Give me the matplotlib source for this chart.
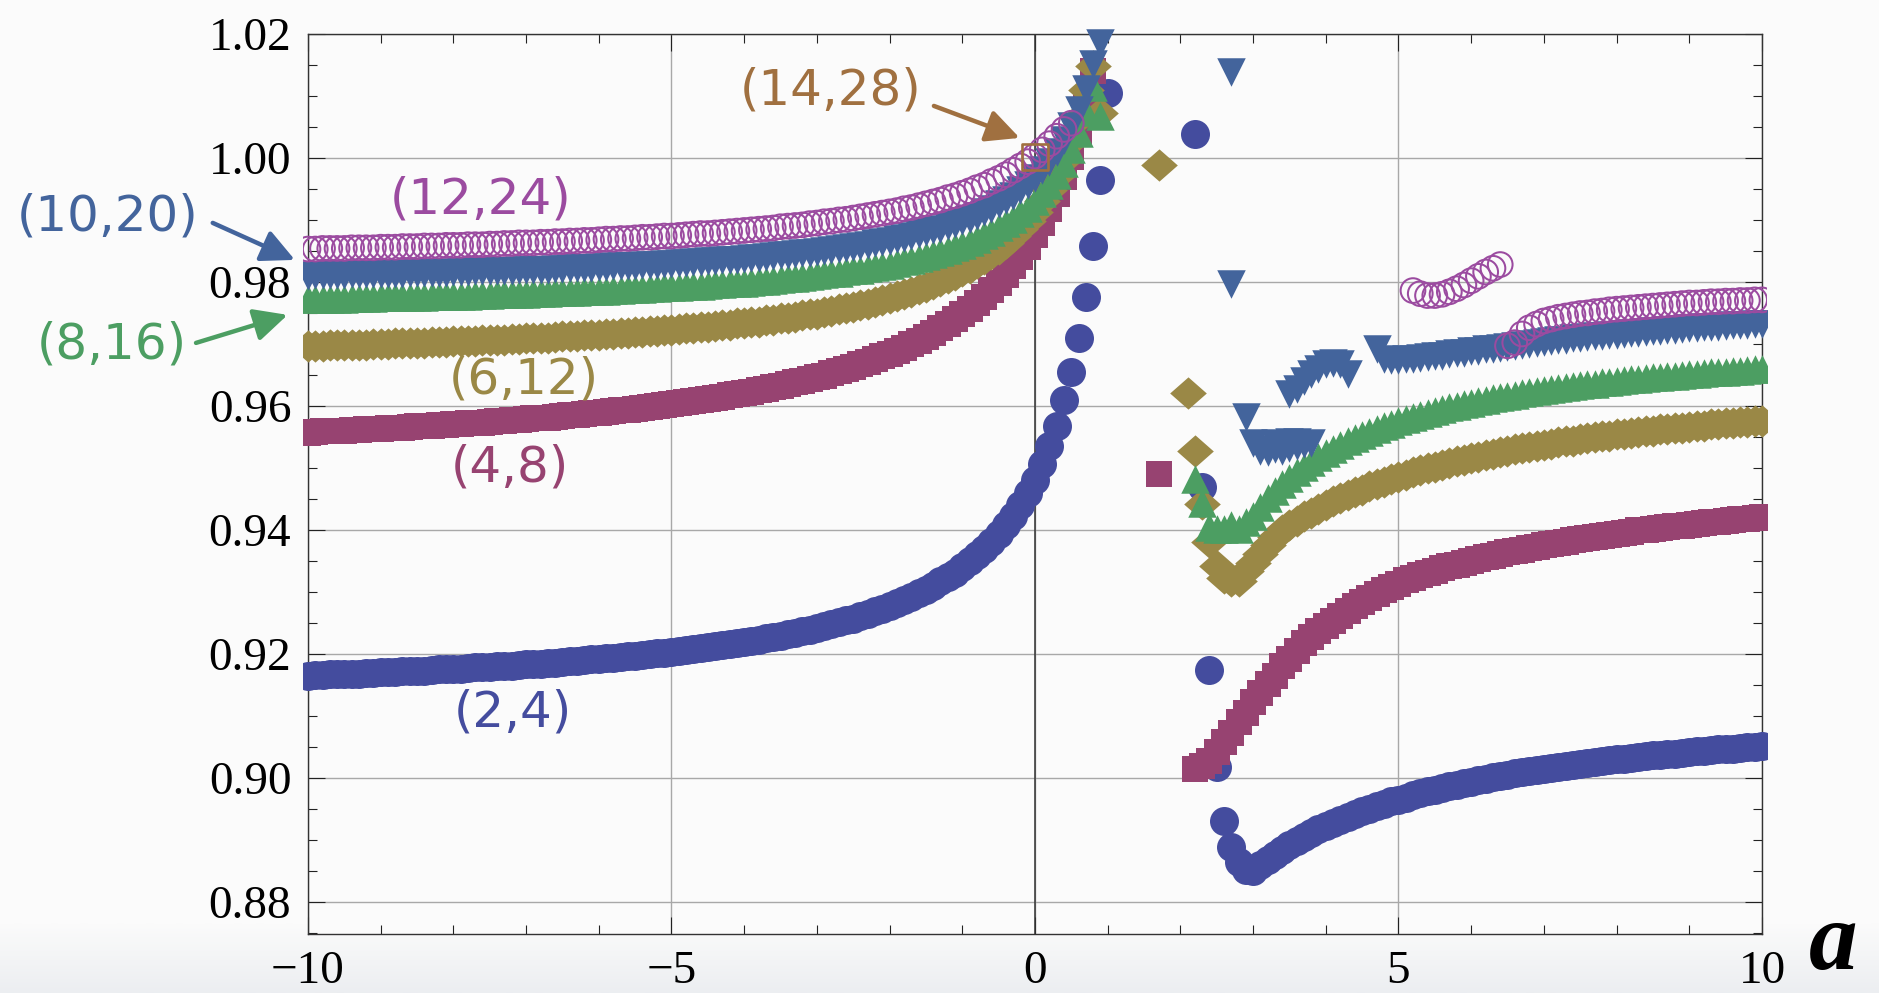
import numpy as np
import matplotlib
matplotlib.use("Agg")
import matplotlib.pyplot as plt
from matplotlib.patches import Rectangle
from matplotlib.path import Path
from matplotlib.ticker import MultipleLocator, FixedLocator, FormatStrFormatter

# ---- data (a on a 0.1 grid) ----
XTICKS = [-10, -5, 0, 5, 10]
YTICKS = [0.88, 0.90, 0.92, 0.94, 0.96, 0.98, 1.00, 1.02]

# (2,4)  filled circles
c24_left = [
    0.9165, 0.9166, 0.9166, 0.9167, 0.9167, 0.9168, 0.9168, 0.9168, 0.9169, 0.9169,
    0.9170, 0.9171, 0.9171, 0.9172, 0.9172, 0.9173, 0.9173, 0.9174, 0.9175, 0.9175,
    0.9176, 0.9176, 0.9177, 0.9178, 0.9178, 0.9179, 0.9180, 0.9181, 0.9181, 0.9182,
    0.9183, 0.9184, 0.9184, 0.9185, 0.9186, 0.9187, 0.9188, 0.9189, 0.9190, 0.9191,
    0.9192, 0.9193, 0.9194, 0.9195, 0.9196, 0.9197, 0.9198, 0.9200, 0.9201, 0.9202,
    0.9203, 0.9205, 0.9206, 0.9208, 0.9209, 0.9211, 0.9212, 0.9214, 0.9216, 0.9217,
    0.9219, 0.9221, 0.9223, 0.9225, 0.9227, 0.9229, 0.9232, 0.9234, 0.9237, 0.9239,
    0.9242, 0.9245, 0.9248, 0.9251, 0.9254, 0.9257, 0.9261, 0.9265, 0.9269, 0.9273,
    0.9277, 0.9282, 0.9287, 0.9292, 0.9298, 0.9303, 0.9310, 0.9317, 0.9324, 0.9331,
    0.9340, 0.9349, 0.9359, 0.9369, 0.9381, 0.9394, 0.9408, 0.9423, 0.9440, 0.9460,
    0.9481, 0.9506, 0.9535, 0.9568, 0.9610, 0.9655, 0.9710, 0.9776, 0.9858, 0.9965, 1.0105]
c24_right = [
    1.0039, 0.9469, 0.9174, 0.9017, 0.8931, 0.8889, 0.8864, 0.8852, 0.8850, 0.8859,
    0.8868, 0.8876, 0.8884, 0.8891, 0.8898, 0.8905, 0.8911, 0.8917, 0.8922, 0.8927,
    0.8932, 0.8937, 0.8942, 0.8946, 0.8950, 0.8954, 0.8958, 0.8962, 0.8965, 0.8968,
    0.8972, 0.8975, 0.8978, 0.8981, 0.8983, 0.8986, 0.8989, 0.8991, 0.8994, 0.8996,
    0.8998, 0.9001, 0.9003, 0.9005, 0.9007, 0.9009, 0.9011, 0.9012, 0.9014, 0.9016,
    0.9018, 0.9019, 0.9021, 0.9022, 0.9024, 0.9025, 0.9027, 0.9028, 0.9030, 0.9031,
    0.9032, 0.9033, 0.9035, 0.9036, 0.9037, 0.9038, 0.9039, 0.9040, 0.9041, 0.9043,
    0.9044, 0.9045, 0.9046, 0.9047, 0.9047, 0.9048, 0.9049, 0.9050, 0.9051]

# (4,8)  squares
s48_left = [
    0.9557, 0.9558, 0.9559, 0.9559, 0.9560, 0.9560, 0.9561, 0.9561, 0.9562, 0.9563,
    0.9563, 0.9564, 0.9564, 0.9565, 0.9566, 0.9567, 0.9567, 0.9568, 0.9569, 0.9569,
    0.9570, 0.9571, 0.9572, 0.9572, 0.9573, 0.9574, 0.9575, 0.9576, 0.9577, 0.9578,
    0.9579, 0.9580, 0.9580, 0.9581, 0.9582, 0.9584, 0.9585, 0.9586, 0.9587, 0.9588,
    0.9589, 0.9590, 0.9592, 0.9593, 0.9594, 0.9595, 0.9597, 0.9598, 0.9600, 0.9601,
    0.9603, 0.9604, 0.9606, 0.9608, 0.9609, 0.9611, 0.9613, 0.9615, 0.9617, 0.9619,
    0.9621, 0.9623, 0.9625, 0.9628, 0.9630, 0.9632, 0.9635, 0.9638, 0.9640, 0.9643,
    0.9646, 0.9649, 0.9653, 0.9656, 0.9659, 0.9663, 0.9667, 0.9671, 0.9675, 0.9680,
    0.9684, 0.9689, 0.9694, 0.9700, 0.9705, 0.9711, 0.9718, 0.9725, 0.9732, 0.9740,
    0.9748, 0.9756, 0.9766, 0.9776, 0.9787, 0.9798, 0.9811, 0.9825, 0.9840, 0.9856,
    0.9875, 0.9895, 0.9917, 0.9942, 0.9970, 1.0001, 1.0038, 1.0082, 1.0140]
s48_iso_x, s48_iso_y = [1.7], [0.9490]
s48_right = [
    0.9015, 0.9019, 0.9027, 0.9041, 0.9057, 0.9073, 0.9090, 0.9105, 0.9122, 0.9137,
    0.9151, 0.9165, 0.9180, 0.9192, 0.9205, 0.9217, 0.9227, 0.9237, 0.9245, 0.9253,
    0.9261, 0.9269, 0.9277, 0.9283, 0.9290, 0.9297, 0.9303, 0.9308, 0.9313, 0.9319,
    0.9323, 0.9327, 0.9331, 0.9334, 0.9338, 0.9341, 0.9344, 0.9347, 0.9350, 0.9353,
    0.9356, 0.9358, 0.9361, 0.9364, 0.9366, 0.9368, 0.9371, 0.9373, 0.9375, 0.9377,
    0.9379, 0.9381, 0.9383, 0.9385, 0.9387, 0.9389, 0.9390, 0.9392, 0.9394, 0.9395,
    0.9397, 0.9399, 0.9400, 0.9402, 0.9403, 0.9404, 0.9406, 0.9407, 0.9408, 0.9410,
    0.9411, 0.9412, 0.9413, 0.9415, 0.9416, 0.9417, 0.9418, 0.9419, 0.9420]

# (6,12)  diamonds
d612_left = [
    0.9697, 0.9697, 0.9697, 0.9698, 0.9698, 0.9698, 0.9699, 0.9699, 0.9699, 0.9700,
    0.9700, 0.9700, 0.9701, 0.9701, 0.9701, 0.9702, 0.9702, 0.9703, 0.9703, 0.9703,
    0.9704, 0.9704, 0.9705, 0.9705, 0.9706, 0.9706, 0.9707, 0.9707, 0.9708, 0.9708,
    0.9709, 0.9709, 0.9710, 0.9710, 0.9711, 0.9712, 0.9712, 0.9713, 0.9714, 0.9714,
    0.9715, 0.9716, 0.9716, 0.9717, 0.9718, 0.9719, 0.9719, 0.9720, 0.9721, 0.9722,
    0.9723, 0.9724, 0.9725, 0.9726, 0.9727, 0.9728, 0.9729, 0.9730, 0.9731, 0.9733,
    0.9734, 0.9735, 0.9736, 0.9738, 0.9739, 0.9741, 0.9742, 0.9744, 0.9746, 0.9748,
    0.9749, 0.9751, 0.9753, 0.9756, 0.9758, 0.9760, 0.9763, 0.9765, 0.9768, 0.9771,
    0.9774, 0.9777, 0.9780, 0.9784, 0.9788, 0.9792, 0.9796, 0.9801, 0.9806, 0.9811,
    0.9817, 0.9823, 0.9830, 0.9837, 0.9845, 0.9853, 0.9863, 0.9874, 0.9885, 0.9899,
    0.9913, 0.9930, 0.9949, 0.9971, 0.9997, 1.0028, 1.0064, 1.0109, 1.0148, 1.0073]
d612_iso_x, d612_iso_y = [1.7], [0.9989]
d612_right = [
    0.9620, 0.9527, 0.9441, 0.9381, 0.9341, 0.9322, 0.9318, 0.9318, 0.9333, 0.9347,
    0.9361, 0.9376, 0.9389, 0.9400, 0.9408, 0.9415, 0.9422, 0.9428, 0.9434, 0.9440,
    0.9446, 0.9451, 0.9456, 0.9461, 0.9465, 0.9470, 0.9474, 0.9478, 0.9482, 0.9486,
    0.9489, 0.9493, 0.9496, 0.9499, 0.9502, 0.9505, 0.9508, 0.9511, 0.9513, 0.9516,
    0.9518, 0.9521, 0.9523, 0.9525, 0.9527, 0.9530, 0.9532, 0.9534, 0.9536, 0.9537,
    0.9539, 0.9541, 0.9543, 0.9544, 0.9546, 0.9548, 0.9549, 0.9551, 0.9552, 0.9554,
    0.9555, 0.9556, 0.9558, 0.9559, 0.9560, 0.9562, 0.9563, 0.9564, 0.9565, 0.9566,
    0.9567, 0.9568, 0.9570, 0.9571, 0.9572, 0.9573, 0.9574, 0.9574, 0.9575, 0.9576]

# (8,16)  up triangles
t816_left = [
    0.9772, 0.9773, 0.9773, 0.9773, 0.9773, 0.9773, 0.9774, 0.9774, 0.9774, 0.9774,
    0.9775, 0.9775, 0.9775, 0.9775, 0.9776, 0.9776, 0.9776, 0.9777, 0.9777, 0.9777,
    0.9778, 0.9778, 0.9778, 0.9779, 0.9779, 0.9779, 0.9780, 0.9780, 0.9780, 0.9781,
    0.9781, 0.9782, 0.9782, 0.9782, 0.9783, 0.9783, 0.9784, 0.9784, 0.9785, 0.9785,
    0.9786, 0.9786, 0.9787, 0.9787, 0.9788, 0.9788, 0.9789, 0.9790, 0.9790, 0.9791,
    0.9791, 0.9792, 0.9793, 0.9794, 0.9794, 0.9795, 0.9796, 0.9797, 0.9798, 0.9798,
    0.9799, 0.9800, 0.9801, 0.9802, 0.9803, 0.9805, 0.9806, 0.9807, 0.9808, 0.9809,
    0.9811, 0.9812, 0.9814, 0.9815, 0.9817, 0.9819, 0.9820, 0.9822, 0.9824, 0.9826,
    0.9828, 0.9831, 0.9833, 0.9836, 0.9839, 0.9842, 0.9845, 0.9848, 0.9852, 0.9856,
    0.9860, 0.9865, 0.9870, 0.9875, 0.9881, 0.9888, 0.9895, 0.9902, 0.9911, 0.9920,
    0.9931, 0.9943, 0.9957, 0.9973, 0.9992, 1.0014, 1.0041, 1.0074, 1.0114, 1.0068]
t816_right = [
    0.9482, 0.9444, 0.9405, 0.9401, 0.9402, 0.9408, 0.9402, 0.9412,
    0.9423, 0.9437, 0.9451, 0.9463, 0.9474, 0.9484, 0.9493, 0.9502, 0.9510, 0.9517,
    0.9524, 0.9531, 0.9537, 0.9543, 0.9548, 0.9553, 0.9558, 0.9563, 0.9567, 0.9571,
    0.9575, 0.9579, 0.9582, 0.9586, 0.9589, 0.9592, 0.9595, 0.9598, 0.9600, 0.9603,
    0.9605, 0.9608, 0.9610, 0.9612, 0.9614, 0.9616, 0.9618, 0.9620, 0.9622, 0.9624,
    0.9626, 0.9627, 0.9629, 0.9630, 0.9632, 0.9633, 0.9635, 0.9636, 0.9638, 0.9639,
    0.9640, 0.9641, 0.9643, 0.9644, 0.9645, 0.9646, 0.9647, 0.9648, 0.9649, 0.9650,
    0.9651, 0.9652, 0.9653, 0.9654, 0.9655, 0.9655, 0.9656, 0.9657, 0.9658, 0.9659, 0.9659]

# (10,20)  down triangles
t1020_left = [
    0.9810, 0.9811, 0.9811, 0.9811, 0.9811, 0.9811, 0.9812, 0.9812, 0.9812, 0.9812,
    0.9813, 0.9813, 0.9813, 0.9813, 0.9814, 0.9814, 0.9814, 0.9815, 0.9815, 0.9815,
    0.9816, 0.9816, 0.9816, 0.9817, 0.9817, 0.9817, 0.9818, 0.9818, 0.9818, 0.9819,
    0.9819, 0.9820, 0.9820, 0.9820, 0.9821, 0.9821, 0.9822, 0.9822, 0.9823, 0.9823,
    0.9824, 0.9824, 0.9825, 0.9825, 0.9826, 0.9826, 0.9827, 0.9828, 0.9828, 0.9829,
    0.9829, 0.9830, 0.9831, 0.9832, 0.9832, 0.9833, 0.9834, 0.9835, 0.9836, 0.9836,
    0.9837, 0.9838, 0.9839, 0.9840, 0.9841, 0.9843, 0.9844, 0.9845, 0.9846, 0.9847,
    0.9849, 0.9850, 0.9852, 0.9853, 0.9855, 0.9857, 0.9858, 0.9860, 0.9862, 0.9864,
    0.9866, 0.9869, 0.9871, 0.9874, 0.9877, 0.9880, 0.9883, 0.9886, 0.9890, 0.9894,
    0.9898, 0.9902, 0.9907, 0.9912, 0.9918, 0.9925, 0.9932, 0.9939, 0.9948, 0.9957,
    0.9968, 0.9980, 0.9994, 1.0010, 1.0029, 1.0051, 1.0078, 1.0111, 1.0151, 1.0185]
t1020_mid_x = [2.7, 2.7, 2.9, 3.0, 3.1, 3.2, 3.3, 3.3, 3.4, 3.5, 3.5, 3.6, 3.6, 3.7, 3.8,
               3.5, 3.6, 3.7, 3.8, 3.9, 4.0, 4.1, 4.2, 4.3]
t1020_mid_y = [1.0139, 0.9796, 0.9582, 0.9540, 0.9527, 0.9526, 0.9530, 0.9540, 0.9527,
               0.9532, 0.9541, 0.9535, 0.9541, 0.9538, 0.9540,
               0.9619, 0.9628, 0.9640, 0.9652, 0.9660, 0.9667, 0.9669, 0.9667, 0.9652]
t1020_right = [
    0.9691, 0.9676, 0.9674, 0.9674, 0.9675, 0.9676, 0.9677, 0.9679, 0.9680, 0.9681,
    0.9683, 0.9685, 0.9686, 0.9688, 0.9689, 0.9691, 0.9692, 0.9694, 0.9695, 0.9697,
    0.9698, 0.9700, 0.9701, 0.9703, 0.9704, 0.9706, 0.9707, 0.9709, 0.9710, 0.9711,
    0.9712, 0.9713, 0.9714, 0.9715, 0.9716, 0.9717, 0.9718, 0.9719, 0.9720, 0.9721,
    0.9722, 0.9723, 0.9724, 0.9725, 0.9726, 0.9727, 0.9727, 0.9728, 0.9729, 0.9730,
    0.9730, 0.9731, 0.9732, 0.9732]

# (12,24)  open circles
o1224_left = [
    0.9853, 0.9853, 0.9854, 0.9854, 0.9854, 0.9854, 0.9855, 0.9855, 0.9855, 0.9855,
    0.9856, 0.9856, 0.9856, 0.9857, 0.9857, 0.9857, 0.9858, 0.9858, 0.9858, 0.9859,
    0.9859, 0.9859, 0.9860, 0.9860, 0.9860, 0.9861, 0.9861, 0.9862, 0.9862, 0.9863,
    0.9863, 0.9863, 0.9864, 0.9864, 0.9865, 0.9865, 0.9866, 0.9866, 0.9867, 0.9867,
    0.9868, 0.9869, 0.9869, 0.9870, 0.9870, 0.9871, 0.9872, 0.9872, 0.9873, 0.9874,
    0.9874, 0.9875, 0.9876, 0.9877, 0.9878, 0.9878, 0.9879, 0.9880, 0.9881, 0.9882,
    0.9883, 0.9884, 0.9885, 0.9886, 0.9887, 0.9889, 0.9890, 0.9891, 0.9892, 0.9894,
    0.9895, 0.9897, 0.9898, 0.9900, 0.9901, 0.9903, 0.9905, 0.9907, 0.9909, 0.9911,
    0.9913, 0.9915, 0.9918, 0.9920, 0.9923, 0.9926, 0.9929, 0.9932, 0.9936, 0.9939,
    0.9943, 0.9947, 0.9952, 0.9956, 0.9962, 0.9967, 0.9973, 0.9980, 0.9987, 0.9994,
    1.0003, 1.0013, 1.0023, 1.0035, 1.0046, 1.0056]
o1224_arc = [0.9786, 0.9781, 0.9778, 0.9778, 0.9780, 0.9784, 0.9789, 0.9795, 0.9802,
             0.9809, 0.9816, 0.9822, 0.9828]
o1224_right = [
    0.9697, 0.9702, 0.9716, 0.9726, 0.9732, 0.9737, 0.9740, 0.9743, 0.9745, 0.9747,
    0.9749, 0.9750, 0.9752, 0.9753, 0.9755, 0.9756, 0.9757, 0.9758, 0.9759, 0.9760,
    0.9761, 0.9762, 0.9763, 0.9764, 0.9765, 0.9766, 0.9766, 0.9767, 0.9768, 0.9768,
    0.9769, 0.9769, 0.9770, 0.9770, 0.9771, 0.9771]

# (14,28)  single open square
sq1428_x, sq1428_y = [0.0], [1.0002]


def agrid(start, n):
    # sample positions of a, spaced 0.1
    return np.round(start + 0.1 * np.arange(n), 1)


COL_24 = "#444C9E"
COL_48 = "#974371"
COL_612 = "#9A8846"
COL_816 = "#4C9E62"
COL_1020 = "#43649C"
COL_1224 = "#9B4BA0"
COL_1428 = "#A07040"

diamond = Path([(-1, 0), (0, 0.88), (1, 0), (0, -0.88), (-1, 0)], closed=True)

plt.rcParams["font.family"] = ["Liberation Serif", "DejaVu Serif"]

fig = plt.figure(figsize=(18.79, 9.93), dpi=100, facecolor="#fbfbfb")

# faint grey band at the bottom of the canvas
bg = fig.add_axes([0, 0, 1, 0.07], zorder=0)
bg.imshow(np.linspace(0, 1, 64).reshape(-1, 1), aspect="auto",
          cmap=matplotlib.colors.LinearSegmentedColormap.from_list("bgr", ["#fbfbfb", "#eceef1"]),
          extent=[0, 1, 0, 1], origin="upper")
bg.axis("off")

ax = fig.add_axes([0.1639, 0.0594, 0.7738, 0.9064], zorder=1)
ax.set_facecolor("#fbfbfb")
ax.set_xlim(-10, 10)
ax.set_ylim(0.8748, 1.02)

clip = Rectangle((-0.0035, -0.006), 1.007, 1.012, transform=ax.transAxes,
                 facecolor="none", edgecolor="none")


def dots(x, y, **kw):
    sc = ax.scatter(x, y, **kw)
    sc.set_clip_path(clip)
    return sc


# (2,4)
dots(agrid(-10.0, len(c24_left)), c24_left, s=436, marker="o", color=COL_24, linewidths=0, zorder=3)
dots(agrid(2.2, len(c24_right)), c24_right, s=436, marker="o", color=COL_24, linewidths=0, zorder=3)
# (4,8)
dots(agrid(-10.0, len(s48_left)), s48_left, s=350, marker="s", color=COL_48, linewidths=0, zorder=4)
dots(s48_iso_x, s48_iso_y, s=350, marker="s", color=COL_48, linewidths=0, zorder=4)
dots(agrid(2.2, len(s48_right)), s48_right, s=350, marker="s", color=COL_48, linewidths=0, zorder=4)
# (6,12)
dots(agrid(-10.0, len(d612_left)), d612_left, s=697, marker=diamond, color=COL_612, linewidths=0, zorder=5)
dots(d612_iso_x, d612_iso_y, s=697, marker=diamond, color=COL_612, linewidths=0, zorder=5)
dots(agrid(2.1, len(d612_right)), d612_right, s=697, marker=diamond, color=COL_612, linewidths=0, zorder=5)
# (8,16)
dots(agrid(-10.0, len(t816_left)), t816_left, s=421, marker="^", color=COL_816, linewidths=0, zorder=6)
dots(agrid(2.2, len(t816_right)), t816_right, s=421, marker="^", color=COL_816, linewidths=0, zorder=6)
# (10,20)
dots(agrid(-10.0, len(t1020_left)), t1020_left, s=421, marker="v", color=COL_1020, linewidths=0, zorder=7)
dots(t1020_mid_x, t1020_mid_y, s=421, marker="v", color=COL_1020, linewidths=0, zorder=7)
dots(agrid(4.7, len(t1020_right)), t1020_right, s=421, marker="v", color=COL_1020, linewidths=0, zorder=7)
# (12,24)
dots(agrid(-10.0, len(o1224_left)), o1224_left, s=316, marker="o", facecolors="none",
     edgecolors=COL_1224, linewidths=1.45, zorder=8)
dots(agrid(5.2, len(o1224_arc)), o1224_arc, s=316, marker="o", facecolors="none",
     edgecolors=COL_1224, linewidths=1.45, zorder=8)
dots(agrid(6.5, len(o1224_right)), o1224_right, s=316, marker="o", facecolors="none",
     edgecolors=COL_1224, linewidths=1.45, zorder=8)
# (14,28)
dots(sq1428_x, sq1428_y, s=350, marker="s", facecolors="none", edgecolors=COL_1428,
     linewidths=1.9, zorder=9)

# axes, ticks, grid
ax.xaxis.set_major_locator(FixedLocator(XTICKS))
ax.xaxis.set_minor_locator(MultipleLocator(1))
ax.yaxis.set_major_locator(FixedLocator(YTICKS))
ax.yaxis.set_minor_locator(MultipleLocator(0.005))
ax.yaxis.set_major_formatter(FormatStrFormatter("%.2f"))
ax.grid(which="major", color="#a8a8a8", lw=1.0, zorder=1)
ax.set_axisbelow(True)
ax.axvline(0, color="#333333", lw=1.1, zorder=2)
ax.tick_params(which="both", direction="in", top=True, right=True, width=0.8, color="#222222")
ax.tick_params(which="major", length=12, labelsize=34, pad=12)
ax.tick_params(which="minor", length=6.5)
for sp in ax.spines.values():
    sp.set_linewidth(1.0)
    sp.set_color("#333333")

fig.text(0.9755, 0.024, "a", fontsize=70, fontstyle="italic", fontweight="bold",
         ha="center", va="baseline")

# series labels
lab = dict(fontsize=36, family="DejaVu Sans", ha="center", va="center", clip_on=False, zorder=12)
ax.text(-12.75, 0.99048, "(10,20)", color=COL_1020, **lab)
ax.text(-12.70, 0.96984, "(8,16)", color=COL_816, **lab)
ax.text(-7.62, 0.99323, "(12,24)", color=COL_1224, **lab)
ax.text(-7.03, 0.96419, "(6,12)", color=COL_612, **lab)
ax.text(-7.22, 0.95000, "(4,8)", color=COL_48, **lab)
ax.text(-7.18, 0.91048, "(2,4)", color=COL_24, **lab)
ax.text(-2.81, 1.01081, "(14,28)", color=COL_1428, **lab)


def arrow(tail, tip, color):
    ax.annotate("", xy=tip, xytext=tail, annotation_clip=False, zorder=12,
                arrowprops=dict(arrowstyle="-|>,head_length=0.45,head_width=0.22",
                                color=color, lw=3.2, mutation_scale=45,
                                shrinkA=0, shrinkB=0))


arrow((-11.31, 0.98952), (-10.18, 0.98355), COL_1020)
arrow((-11.54, 0.97016), (-10.28, 0.97468), COL_816)
arrow((-1.39, 1.00839), (-0.21, 1.00323), COL_1428)

fig.savefig("out.png", dpi=100, facecolor=fig.get_facecolor())
